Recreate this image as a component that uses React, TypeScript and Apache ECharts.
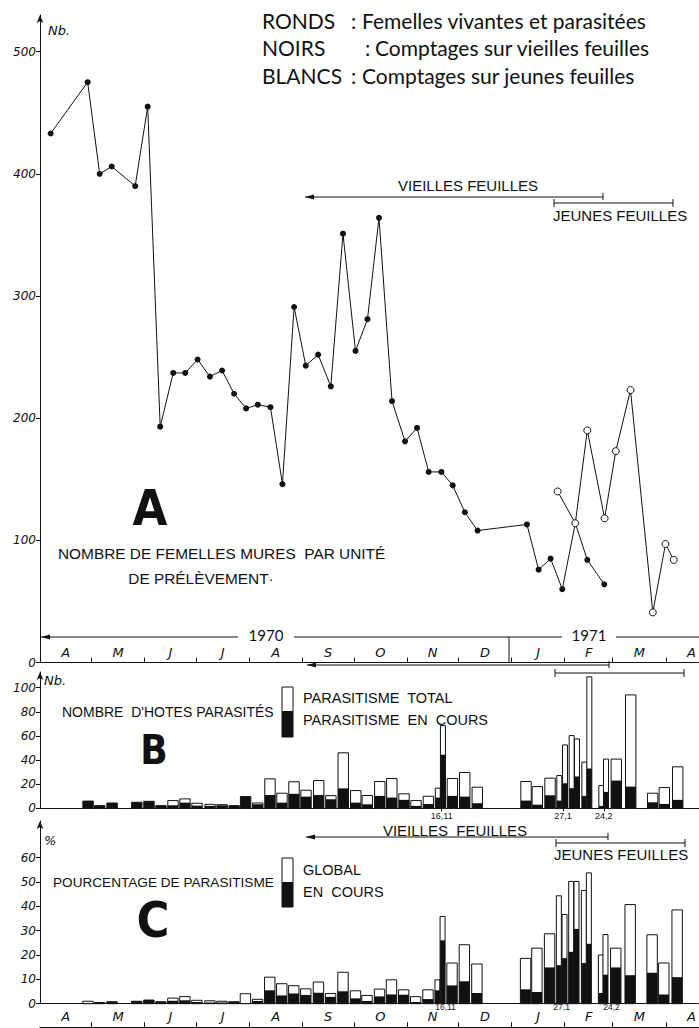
import React, { useEffect, useRef } from 'react';
import * as echarts from 'echarts';

// ---------- axis ticks / labels ----------
const monthLetters = ['A', 'M', 'J', 'J', 'A', 'S', 'O', 'N', 'D', 'J', 'F', 'M', 'A'];
const monthStartDays = [30, 61, 91, 122, 153, 183, 214, 244, 275, 306, 334, 365];
const monthMidDays = [15, 45.5, 76, 106.5, 137.5, 168, 198.5, 229, 259.5, 290.5, 320, 349.5, 380];
const countTicks = [0, 100, 200, 300, 400, 500];
const hostTicks = [0, 20, 40, 60, 80, 100];
const pctTicks = [0, 10, 20, 30, 40, 50, 60];
const markDateLabels = ['16,11', '27,1', '24,2'];
const markDaysB = [234.1, 304.8, 328.5];
const markDaysC = [236.5, 304.2, 333.3];

// ---------- panel A : females per sampling unit (days since 1 April 1970) ----------
const oldLeafDays = [6.2, 27.8, 34.8, 41.8, 55.5, 62.8, 70.1, 77.7, 84.7, 91.9, 99.1, 106.2, 113.2, 120.2, 127.0, 134.4, 141.4, 148.2, 155.0, 162.2, 169.6, 176.7, 184.0, 191.0, 197.7, 205.3, 212.9, 219.9, 226.7, 234.1, 240.7, 247.8, 255.2, 284.0, 290.8, 297.8, 304.6, 312.2, 319.2, 329.1];
const oldLeafFemales = [433, 475, 400, 406, 390, 455, 193, 237, 237, 248, 234, 239, 220, 208, 211, 209, 146, 291, 243, 252, 226, 351, 255, 281, 364, 214, 181, 192, 156, 156, 145, 123, 108, 113, 76, 85, 60, 114, 84, 64];
const youngLeafDays = [301.9, 312.2, 319.2, 329.3, 335.8, 344.4, 357.4, 364.8, 369.6];
const youngLeafFemales = [140, 114, 190, 118, 173, 223, 41, 97, 84];

// ---------- panels B and C : parasitism per sample ----------
const barDays = [28.0, 34.8, 42.0, 56.4, 63.5, 70.5, 77.5, 84.5, 91.5, 99.1, 106.1, 113.1, 119.8, 126.9, 134.0, 141.0, 148.0, 155.0, 162.4, 169.5, 176.7, 184.0, 190.7, 198.0, 205.0, 212.1, 219.1, 226.3, 231.8, 234.8, 240.3, 247.5, 254.8, 283.2, 289.8, 297.2, 302.6, 305.9, 309.8, 312.9, 317.2, 320.1, 327.1, 329.8, 335.8, 344.2, 357.0, 363.8, 371.6];
const pairedSample = [false, false, false, false, false, false, false, false, false, false, false, false, false, false, false, false, false, false, false, false, false, false, false, false, false, false, false, false, true, true, false, false, false, false, false, false, true, true, true, true, true, true, true, true, false, false, false, false, false];
const hostsTotal = [6, 2.2, 4.4, 5, 5.8, 2.2, 6.4, 7.8, 4.2, 3.3, 3, 2.2, 9.7, 4.4, 24.4, 12.5, 22, 15, 23, 10.5, 46, 14.7, 10.6, 22.2, 24.7, 12, 6.4, 10, 16.7, 68.6, 24.7, 29.7, 17.5, 22.2, 18, 25, 27.2, 52.5, 60.3, 57.5, 38.3, 109, 18.9, 40.8, 40.8, 94, 12.5, 17.2, 34.4];
const hostsActive = [6, 2.2, 4.4, 5, 5.8, 2.2, 2.5, 4.7, 2.2, 2, 2.5, 2.2, 9.7, 3.3, 11, 4.7, 12, 9.7, 11, 7.5, 16.5, 4.7, 3.3, 10.3, 8.9, 7, 2, 3.6, 8.9, 44.4, 10.3, 9.7, 4.2, 6.4, 3, 10.8, 6.4, 20.8, 16.7, 26.4, 10.3, 33, 2, 13.6, 23, 18, 5, 3.6, 7];
const pctGlobal = [1.0, 0.5, 0.8, 1.0, 1.5, 0.8, 2.3, 2.9, 1.4, 1.2, 1.0, 0.8, 4.1, 1.8, 10.9, 8.2, 7.4, 6.1, 8.9, 4.2, 12.9, 5.3, 3.4, 6, 9.8, 5.7, 2.9, 5.7, 9.8, 35.8, 16.7, 24.2, 16.3, 18.6, 22.8, 28.7, 44.3, 36.6, 50.2, 50.2, 46.5, 53.7, 20, 28.4, 22.8, 40.7, 28.3, 16.7, 38.5];
const pctActive = [0.3, 0.5, 0.8, 1.0, 1.5, 0.8, 1.2, 1.4, 0.7, 0.5, 0.5, 0.8, 0.3, 1.1, 5.5, 3.4, 4.2, 3.6, 4.5, 2.8, 5.1, 2.2, 1.1, 3, 3.8, 3.7, 0.7, 1.9, 5.5, 26, 7.5, 9.2, 4.4, 5.9, 4.8, 14.9, 15.8, 18.7, 21.3, 30.7, 16.7, 24.6, 4.4, 11.9, 14.9, 11.7, 12.7, 3.8, 10.9];

const INK = '#111';
const F_LET = '"Liberation Sans", Arial, sans-serif';
const F_LEG = 'Lato, "Open Sans", sans-serif';
const F_NUM = '"DejaVu Sans", sans-serif';
const F_BIG = '"Liberation Sans Narrow", "DejaVu Sans Condensed", sans-serif';

const nearestLabel = (vals: number[], labels: string[]) => (v: number) => {
  let best = 0;
  for (let i = 1; i < vals.length; i++) if (Math.abs(vals[i] - v) < Math.abs(vals[best] - v)) best = i;
  return labels[best];
};

const txt = (x: number, y: number, text: string, size: number, family: string, align = 'left', extra: any = {}) => ({
  type: 'text', x, y, silent: true,
  style: { text, fontSize: size, fontFamily: family, fill: INK, textAlign: align, textVerticalAlign: 'middle', ...extra },
});
const ln = (x1: number, y1: number, x2: number, y2: number) => ({
  type: 'line', silent: true, shape: { x1, y1, x2, y2 }, style: { stroke: INK, lineWidth: 1 },
});
const arrowL = (x: number, y: number) => ({
  type: 'polygon', silent: true, shape: { points: [[x, y], [x + 9, y - 2.5], [x + 9, y + 2.5]] }, style: { fill: INK },
});

const barRender = (params: any, api: any) => {
  const x = api.value(0);
  const w = api.value(3) ? 5 : 10.4;
  const p0 = api.coord([x, 0]);
  const pt = api.coord([x, api.value(1)]);
  const pa = api.coord([x, api.value(2)]);
  return {
    type: 'group',
    children: [
      { type: 'rect', shape: { x: p0[0] - w / 2, y: pt[1], width: w, height: p0[1] - pt[1] }, style: { fill: '#fff', stroke: INK, lineWidth: 1 } },
      { type: 'rect', shape: { x: p0[0] - w / 2, y: pa[1], width: w, height: p0[1] - pa[1] }, style: { fill: INK } },
    ],
  };
};

const axisLineStyle = { color: INK, width: 1 };
const yLabel = { fontFamily: F_NUM, fontStyle: 'italic', fontSize: 12, color: INK, margin: 4 };
const monthAxis = (gridIndex: number, extra: any = {}) => ({
  gridIndex, type: 'value', min: 0, max: 384,
  axisLine: { show: true, onZero: false, lineStyle: axisLineStyle },
  axisTick: { show: true, inside: true, length: 5, customValues: monthStartDays, lineStyle: axisLineStyle },
  axisLabel: {
    show: true, inside: true, margin: 4, customValues: monthMidDays,
    formatter: nearestLabel(monthMidDays, monthLetters),
    fontFamily: F_NUM, fontStyle: 'italic', fontSize: 13, color: INK,
  },
  splitLine: { show: false },
  ...extra,
});

export default function App() {
  const ref = useRef<HTMLDivElement>(null);
  useEffect(() => {
    if (!ref.current) return;
    const chart = echarts.init(ref.current, undefined, { renderer: 'svg' });
    const graphic: any[] = [
      // legend
      txt(262, 20, 'RONDS', 21, F_LEG), txt(351, 20, ':', 21, F_LEG), txt(362, 20, 'Femelles vivantes et parasitées', 21, F_LEG),
      txt(262, 47, 'NOIRS', 21, F_LEG), txt(365, 47, ':', 21, F_LEG), txt(375, 47, 'Comptages sur vieilles feuilles', 21, F_LEG),
      txt(262, 75, 'BLANCS', 21, F_LEG), txt(351, 75, ':', 21, F_LEG), txt(362, 75, 'Comptages sur jeunes feuilles', 21, F_LEG),
      // panel A
      txt(48, 30, 'Nb.', 13, F_NUM, 'left', { fontStyle: 'italic' }),
      txt(150, 508, 'A', 50, F_BIG, 'center', { fontWeight: 'bold' }),
      txt(58, 553, 'NOMBRE DE FEMELLES MURES  PAR UNITÉ', 15.4, F_LET),
      txt(201, 578, 'DE PRÉLÈVEMENT·', 15.4, F_LET, 'center'),
      txt(468, 185, 'VIEILLES FEUILLES', 15, F_LET, 'center'),
      ln(305, 197, 603, 197), arrowL(305, 197), ln(603, 193, 603, 200),
      ln(554, 203, 673, 203), ln(554, 199, 554, 207), ln(673, 199, 673, 207),
      txt(553, 215, 'JEUNES FEUILLES', 15, F_LET),
      ln(41, 637, 238, 637), arrowL(41, 637), txt(266, 635, '1970', 15, F_LEG, 'center'),
      ln(294, 637, 562, 637), txt(589, 635, '1971', 15, F_LEG, 'center'), ln(616, 637, 699, 637),
      ln(509, 637, 509, 662),
      // panel B
      txt(44, 680, 'Nb.', 13, F_NUM, 'left', { fontStyle: 'italic' }),
      txt(62, 712, "NOMBRE  D'HOTES PARASITÉS", 14, F_LET),
      txt(154, 750, 'B', 40, F_BIG, 'center', { fontWeight: 'bold' }),
      { type: 'rect', silent: true, shape: { x: 282, y: 687, width: 11, height: 50 }, style: { fill: '#fff', stroke: INK, lineWidth: 1 } },
      { type: 'rect', silent: true, shape: { x: 282, y: 711, width: 11, height: 26 }, style: { fill: INK } },
      txt(303, 698, 'PARASITISME  TOTAL', 14.5, F_LET),
      txt(303, 720, 'PARASITISME  EN  COURS', 14.5, F_LET),
      ln(307, 665, 609, 665), arrowL(307, 665), ln(609, 661, 609, 668),
      ln(555, 673, 684, 673), ln(555, 669, 555, 677), ln(684, 669, 684, 677),
      // panel C
      txt(44, 840, '%', 13, F_NUM, 'left', { fontStyle: 'italic' }),
      txt(53, 882, 'POURCENTAGE DE PARASITISME', 13.6, F_LET),
      txt(153, 920, 'C', 50, F_BIG, 'center', { fontWeight: 'bold' }),
      { type: 'rect', silent: true, shape: { x: 282, y: 858, width: 11, height: 49 }, style: { fill: '#fff', stroke: INK, lineWidth: 1 } },
      { type: 'rect', silent: true, shape: { x: 282, y: 882, width: 11, height: 25 }, style: { fill: INK } },
      txt(303, 870, 'GLOBAL', 14.5, F_LET),
      txt(303, 892, 'EN  COURS', 14.5, F_LET),
      txt(455, 830, 'VIEILLES  FEUILLES', 15, F_LET, 'center'),
      ln(306, 837, 608, 837), arrowL(306, 837), ln(608, 833, 608, 840),
      ln(556, 843, 685, 843), ln(556, 839, 556, 847), ln(685, 839, 685, 847),
      txt(554, 854, 'JEUNES FEUILLES', 15, F_LET),
    ];

    chart.setOption({
      animation: false,
      backgroundColor: '#fff',
      grid: [
        { left: 40, right: 0, top: 15, height: 647.5 },
        { left: 40, right: 0, top: 672, height: 136.3 },
        { left: 40, right: 0, top: 821, height: 182.7 },
      ],
      xAxis: [
        monthAxis(0),
        {
          gridIndex: 1, type: 'value', min: 0, max: 384,
          axisLine: { show: true, onZero: false, lineStyle: axisLineStyle },
          axisTick: { show: true, length: 3, customValues: markDaysB, lineStyle: axisLineStyle },
          axisLabel: { show: true, margin: 3, customValues: markDaysB, formatter: nearestLabel(markDaysB, markDateLabels), fontFamily: F_LET, fontSize: 9, color: INK },
          splitLine: { show: false },
        },
        {
          gridIndex: 2, type: 'value', min: 0, max: 384,
          axisLine: { show: true, onZero: false, lineStyle: axisLineStyle },
          axisTick: { show: false },
          axisLabel: { show: true, margin: -1, customValues: markDaysC, formatter: nearestLabel(markDaysC, markDateLabels), fontFamily: F_LET, fontSize: 8.5, color: INK },
          splitLine: { show: false },
        },
        monthAxis(2, { position: 'bottom', offset: 23.5 }),
      ],
      yAxis: [
        {
          gridIndex: 0, type: 'value', min: 0, max: 530,
          axisLine: { show: true, onZero: false, symbol: ['none', 'arrow'], symbolSize: [5, 8], lineStyle: axisLineStyle },
          axisTick: { show: true, length: 4, customValues: countTicks, lineStyle: axisLineStyle },
          axisLabel: { ...yLabel, customValues: countTicks },
          splitLine: { show: false },
        },
        {
          gridIndex: 1, type: 'value', min: 0, max: 113,
          axisLine: { show: true, onZero: false, symbol: ['none', 'arrow'], symbolSize: [5, 8], lineStyle: axisLineStyle },
          axisTick: { show: true, length: 4, customValues: hostTicks, lineStyle: axisLineStyle },
          axisLabel: { ...yLabel, customValues: hostTicks },
          splitLine: { show: false },
        },
        {
          gridIndex: 2, type: 'value', min: 0, max: 75,
          axisLine: { show: true, onZero: false, symbol: ['none', 'arrow'], symbolSize: [5, 8], lineStyle: axisLineStyle },
          axisTick: { show: true, length: 4, customValues: pctTicks, lineStyle: axisLineStyle },
          axisLabel: { ...yLabel, customValues: pctTicks },
          splitLine: { show: false },
        },
      ],
      series: [
        {
          name: 'Vieilles feuilles', type: 'line', xAxisIndex: 0, yAxisIndex: 0,
          data: oldLeafDays.map((d, i) => [d, oldLeafFemales[i]]),
          symbol: 'circle', symbolSize: 6, showAllSymbol: true,
          lineStyle: { color: INK, width: 1 }, itemStyle: { color: INK }, z: 2,
        },
        {
          name: 'Jeunes feuilles', type: 'line', xAxisIndex: 0, yAxisIndex: 0,
          data: youngLeafDays.map((d, i) => [d, youngLeafFemales[i]]),
          symbol: 'circle', symbolSize: 7, showAllSymbol: true,
          lineStyle: { color: INK, width: 1 }, itemStyle: { color: '#fff', borderColor: INK, borderWidth: 1 }, z: 3,
        },
        {
          name: "Nombre d'hôtes parasités", type: 'custom', xAxisIndex: 1, yAxisIndex: 1,
          renderItem: barRender, encode: { x: 0, y: 1 },
          data: barDays.map((d, i) => [d, hostsTotal[i], hostsActive[i], pairedSample[i] ? 1 : 0]),
        },
        {
          name: 'Pourcentage de parasitisme', type: 'custom', xAxisIndex: 2, yAxisIndex: 2,
          renderItem: barRender, encode: { x: 0, y: 1 },
          data: barDays.map((d, i) => [d, pctGlobal[i], pctActive[i], pairedSample[i] ? 1 : 0]),
        },
      ],
      graphic,
    });
    return () => chart.dispose();
  }, []);
  return <div ref={ref} style={{ position: 'absolute', left: 0, top: 0, width: 699, height: 1028, background: '#fff' }} />;
}
